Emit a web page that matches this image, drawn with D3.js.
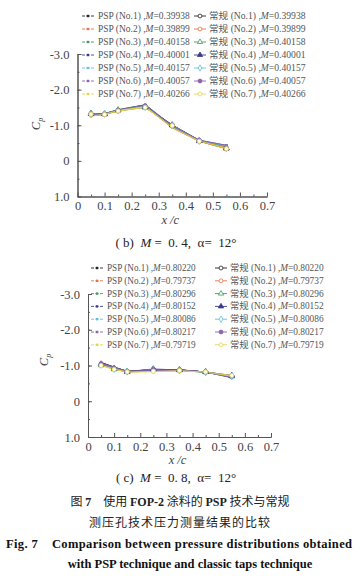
<!DOCTYPE html>
<html><head><meta charset="utf-8">
<script src="https://cdn.jsdelivr.net/npm/d3@7"></script>
<style>body{margin:0;background:#fff}svg{display:block}svg text{white-space:pre}</style>
</head><body>
<script>
const xPos = [0.05, 0.10, 0.15, 0.25, 0.35, 0.45, 0.55];
const seriesNo = ["No.1","No.2","No.3","No.4","No.5","No.6","No.7"];
const colors = ["#222222","#e8714a","#3e9c5e","#3b3b8e","#60c2d8","#8c62aa","#e6d64a"];
const machB = ["0.39938","0.39899","0.40158","0.40001","0.40157","0.40057","0.40266"];
const machC = ["0.80220","0.79737","0.80296","0.80152","0.80086","0.80217","0.79719"];
const yTicks = [-3.0,-2.0,-1.0,0,1.0];
const yTickLabels = ["-3.0","-2.0","-1.0","0","1.0"];
const xTicks = [0,0.1,0.2,0.3,0.4,0.5,0.6,0.7];
const xTickLabels = ["0","0.1","0.2","0.3","0.4","0.5","0.6","0.7"];
// M=0.4 case
const pspB = [
 [-1.27,-1.31,-1.42,-1.56,-0.95,-0.56,-0.38],
 [-1.28,-1.31,-1.43,-1.53,-0.93,-0.55,-0.36],
 [-1.26,-1.32,-1.44,-1.57,-0.96,-0.57,-0.40],
 [-1.29,-1.33,-1.43,-1.57,-0.98,-0.58,-0.43],
 [-1.28,-1.32,-1.42,-1.55,-0.97,-0.57,-0.42],
 [-1.27,-1.31,-1.43,-1.56,-0.96,-0.58,-0.44],
 [-1.26,-1.30,-1.41,-1.52,-0.94,-0.55,-0.37]];
const tapsB = [
 [-1.32,-1.31,-1.41,-1.52,-1.00,-0.56,-0.35],
 [-1.31,-1.30,-1.40,-1.51,-0.99,-0.55,-0.34],
 [-1.33,-1.32,-1.43,-1.50,-1.01,-0.57,-0.36],
 [-1.32,-1.31,-1.42,-1.52,-1.00,-0.56,-0.35],
 [-1.31,-1.32,-1.41,-1.51,-0.99,-0.56,-0.35],
 [-1.32,-1.31,-1.42,-1.52,-1.00,-0.57,-0.36],
 [-1.31,-1.30,-1.40,-1.50,-0.99,-0.55,-0.34]];
// M=0.8 case
const pspC = [
 [-1.08,-0.95,-0.83,-0.86,-0.87,-0.82,-0.68],
 [-1.06,-0.94,-0.84,-0.85,-0.87,-0.82,-0.67],
 [-1.07,-0.96,-0.83,-0.84,-0.86,-0.81,-0.69],
 [-1.08,-0.95,-0.84,-0.86,-0.88,-0.82,-0.66],
 [-1.05,-0.93,-0.82,-0.85,-0.86,-0.81,-0.68],
 [-1.06,-0.94,-0.83,-0.86,-0.87,-0.82,-0.67],
 [-1.00,-0.90,-0.82,-0.83,-0.85,-0.82,-0.70]];
const tapsC = [
 [-1.02,-0.90,-0.83,-0.89,-0.87,-0.82,-0.70],
 [-1.03,-0.91,-0.83,-0.88,-0.87,-0.82,-0.71],
 [-1.01,-0.90,-0.82,-0.89,-0.88,-0.82,-0.70],
 [-1.04,-0.92,-0.83,-0.90,-0.87,-0.82,-0.72],
 [-1.02,-0.90,-0.83,-0.88,-0.86,-0.81,-0.70],
 [-1.03,-0.91,-0.83,-0.89,-0.87,-0.82,-0.71],
 [-1.00,-0.89,-0.82,-0.84,-0.86,-0.82,-0.72]];

const W = 360, H = 579;
const svg = d3.select("body").append("svg").attr("width", W).attr("height", H);
const serif = "'Liberation Serif','DejaVu Serif',serif";
const cjk = "'Noto Sans CJK SC','Liberation Serif',serif";
const tapSym = [d3.symbolCircle, d3.symbolCircle, d3.symbolTriangle, d3.symbolTriangle, d3.symbolDiamond, d3.symbolCircle, d3.symbolCircle];
const tapFill = [false,false,false,true,false,true,false];

function fitWidth(textSel, x, w) {
  const bw = textSel.node().getBBox().width;
  const s = w / bw;
  textSel.attr("x", 0).attr("transform", `translate(${x},0) scale(${s},1)`);
}

function panel(o) {
  const x = d3.scaleLinear().domain([0, 0.7]).range([o.x0, o.x1]);
  const y = d3.scaleLinear().domain([-3, 1]).range([o.y0, o.y1]);
  const g = svg.append("g");
  const yAxis = d3.axisLeft(y).tickValues(yTicks).tickFormat((d,i)=>yTickLabels[i]).tickSizeInner(-4).tickSizeOuter(0).tickPadding(8);
  g.append("g").attr("transform", `translate(${o.x0},0)`).call(yAxis);
  const yMinor = d3.axisLeft(y).tickValues(d3.range(-3, 1.01, 0.5)).tickFormat("").tickSizeInner(-2).tickSizeOuter(0);
  g.append("g").attr("transform", `translate(${o.x0},0)`).call(yMinor);
  const xAxis = d3.axisBottom(x).tickValues(xTicks).tickFormat((d,i)=>xTickLabels[i]).tickSizeInner(-4).tickSizeOuter(0).tickPadding(6);
  const gx = g.append("g").attr("transform", `translate(0,${o.y1})`).call(xAxis);
  const xMinor = d3.axisBottom(x).tickValues(d3.range(0.05, 0.7, 0.1)).tickFormat("").tickSizeInner(-2).tickSizeOuter(0);
  g.append("g").attr("transform", `translate(0,${o.y1})`).call(xMinor);
  g.selectAll("g").attr("font-family", serif);
  g.selectAll(".domain").attr("stroke", "#555").attr("stroke-width", 1);
  g.selectAll(".tick line").attr("stroke", "#555");
  g.selectAll(".tick text").style("font-family", serif).attr("font-size", 12.5).attr("fill", "#444");
  gx.selectAll(".tick text").attr("dy", "0.6em");
  g.append("text").attr("x", (o.x0 + x(0.7)) / 2 - 2).attr("y", o.y1 + 27).attr("text-anchor", "middle")
    .style("font-family", serif).attr("font-size", 12.5).attr("font-style", "italic").attr("fill", "#444").text("x /c");
  const cy = g.append("text").attr("transform", `translate(${o.labX},${o.labY}) rotate(-90)`).attr("text-anchor", "middle")
    .style("font-family", serif).attr("font-size", 12.5).attr("fill", "#444");
  cy.append("tspan").attr("font-style", "italic").text("C");
  cy.append("tspan").attr("font-size", 8).attr("dy", 3).attr("font-style", "italic").text("p");
  const line = d3.line().x((d,i)=>x(xPos[i])).y(d=>y(d));
  o.taps.forEach((vals, k) => {
    g.append("path").attr("d", line(vals)).attr("fill", "none").attr("stroke", colors[k]).attr("stroke-width", 1.1).attr("opacity", 0.9);
  });
  o.psp.forEach((vals, k) => {
    g.append("path").attr("d", line(vals)).attr("fill", "none").attr("stroke", colors[k]).attr("stroke-width", 1.1).attr("opacity", 0.9);
  });
  o.psp.forEach((vals, k) => {
    g.selectAll(null).data(vals).enter().append("rect")
      .attr("x", (d,i)=>x(xPos[i]) - 1.2).attr("y", d=>y(d) - 1.2).attr("width", 2.4).attr("height", 2.4).attr("fill", colors[k]);
  });
  o.taps.forEach((vals, k) => {
    g.selectAll(null).data(vals).enter().append("path")
      .attr("transform", (d,i)=>`translate(${x(xPos[i])},${y(d)})`)
      .attr("d", d3.symbol().type(tapSym[k]).size(14))
      .attr("fill", tapFill[k] ? colors[k] : "#fff").attr("stroke", colors[k]).attr("stroke-width", 0.9);
  });
  for (let k = 0; k < 7; k++) {
    const ly = o.legY + k * o.legDy;
    const lc = g.append("g").attr("transform", `translate(${o.legX1},${ly})`);
    lc.append("line").attr("x1", 0).attr("x2", 12).attr("y1", 0).attr("y2", 0).attr("stroke", colors[k]).attr("stroke-width", 0.9).attr("stroke-dasharray", "3,1.5");
    lc.append("rect").attr("x", 4.8).attr("y", -1.2).attr("width", 2.4).attr("height", 2.4).attr("fill", colors[k]);
    const t1 = lc.append("text").attr("y", 3).style("font-family", serif).attr("font-size", 9.5).attr("fill", "#555");
    t1.append("tspan").text(`PSP (${seriesNo[k]}) ,`);
    t1.append("tspan").attr("font-style", "italic").text("M");
    t1.append("tspan").text("=" + o.mach[k]);
    fitWidth(t1, 16, o.legW1);
    const rc = g.append("g").attr("transform", `translate(${o.legX2},${ly})`);
    rc.append("line").attr("x1", 0).attr("x2", 12).attr("y1", 0).attr("y2", 0).attr("stroke", colors[k]).attr("stroke-width", 0.9);
    rc.append("path").attr("transform", "translate(6,0)").attr("d", d3.symbol().type(tapSym[k]).size(12))
      .attr("fill", tapFill[k] ? colors[k] : "#fff").attr("stroke", colors[k]).attr("stroke-width", 0.8);
    const t2 = rc.append("text").attr("y", 3).attr("font-size", 9.5).attr("fill", "#555").style("font-family", serif);
    t2.append("tspan").style("font-family", cjk).text("常规");
    t2.append("tspan").text(` (${seriesNo[k]}) ,`);
    t2.append("tspan").attr("font-style", "italic").text("M");
    t2.append("tspan").text("=" + o.mach[k]);
    fitWidth(t2, 15, o.legW2);
  }
  const cap = svg.append("text").attr("x", o.capX).attr("y", o.capY).attr("text-anchor", "middle")
    .style("font-family", serif).attr("font-size", 13).attr("fill", "#222");
  cap.append("tspan").text(`( ${o.tag})  `);
  cap.append("tspan").attr("font-style", "italic").text("M");
  cap.append("tspan").text(` =  ${o.mstr},  α=  12°`);
}

panel({x0: 77.5, x1: 267, y0: 54, y1: 196.5, labX: 40, labY: 124, psp: pspB, taps: tapsB, mach: machB,
  legY: 16, legDy: 13, legX1: 82, legX2: 194, legW1: 92, legW2: 97, tag: "b", mstr: "0. 4", capX: 176, capY: 247});
panel({x0: 88, x1: 271, y0: 294, y1: 437, labX: 48, labY: 360, psp: pspC, taps: tapsC, mach: machC,
  legY: 268, legDy: 12.8, legX1: 91, legX2: 215, legW1: 89, legW2: 94, tag: "c", mstr: "0. 8", capX: 176, capY: 482});

const c1 = svg.append("text").attr("x", 180).attr("y", 506).attr("text-anchor", "middle")
  .style("font-family", cjk).attr("font-size", 12).attr("fill", "#222");
c1.append("tspan").text("图 ");
c1.append("tspan").attr("font-weight", "bold").style("font-family", serif).text("7");
c1.append("tspan").text("　使用 ");
c1.append("tspan").attr("font-weight", "bold").style("font-family", serif).text("FOP-2");
c1.append("tspan").text(" 涂料的 ");
c1.append("tspan").attr("font-weight", "bold").style("font-family", serif).text("PSP");
c1.append("tspan").text(" 技术与常规");
svg.append("text").attr("x", 180).attr("y", 527).attr("text-anchor", "middle")
  .style("font-family", cjk).attr("font-size", 12).attr("fill", "#222").attr("letter-spacing", 1).text("测压孔技术压力测量结果的比较");
svg.append("text").attr("x", 6).attr("y", 548)
  .style("font-family", serif).attr("font-size", 12.5).attr("font-weight", "bold").attr("fill", "#111")
  .attr("textLength", 346).attr("lengthAdjust", "spacing")
  .text("Fig. 7    Comparison between pressure distributions obtained");
svg.append("text").attr("x", 190).attr("y", 568).attr("text-anchor", "middle")
  .style("font-family", serif).attr("font-size", 12.5).attr("font-weight", "bold").attr("fill", "#111")
  .text("with PSP technique and classic taps technique");
</script>
</body></html>
